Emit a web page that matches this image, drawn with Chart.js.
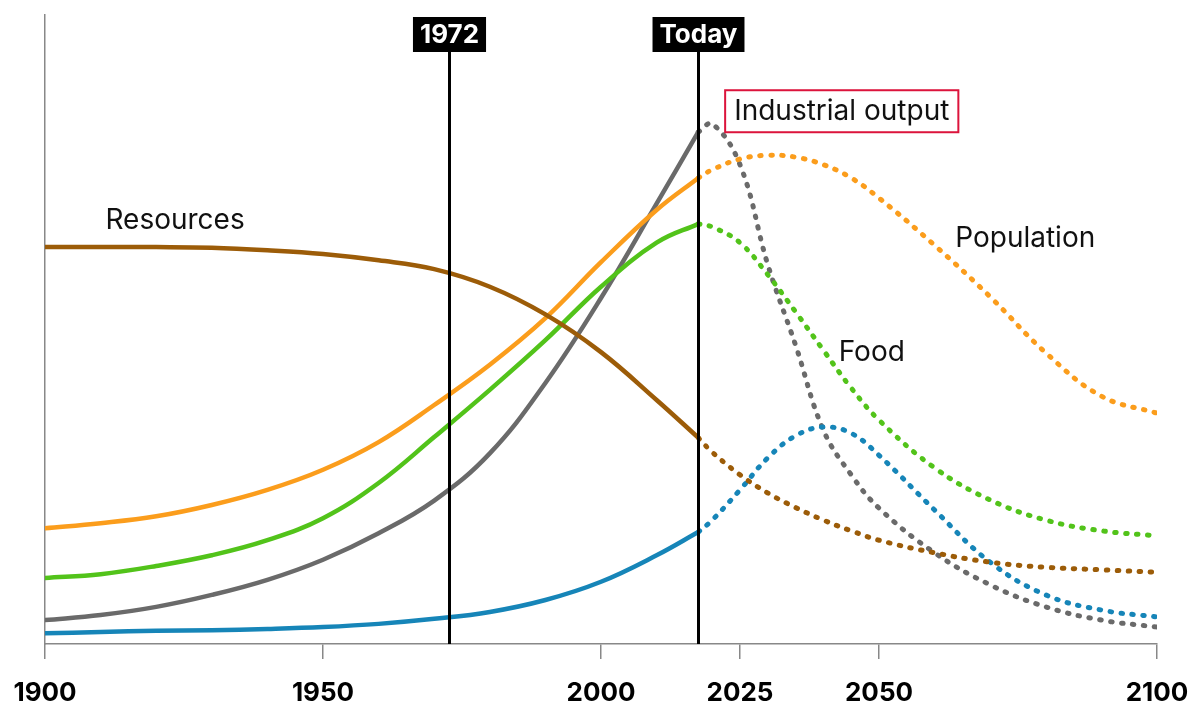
<!DOCTYPE html>
<html>
<head>
<meta charset="utf-8">
<script src="https://cdn.jsdelivr.net/npm/chart.js@4"></script>
<style>
  body { margin: 0; background: #fff; }
  #wrap { width: 1200px; height: 727px; }
</style>
</head>
<body>
<div id="wrap"><canvas id="chart"></canvas></div>
<script>
// years (solid part up to today, dotted part after)
const pastYears = [1900, 1910, 1920, 1930, 1940, 1950, 1960, 1970, 1980, 1990, 2000, 2010, 2017.5];
const futureYears = [2017.5, 2020, 2025, 2030, 2035, 2040, 2045, 2050, 2060, 2070, 2080, 2090, 2100];

// values (0 = axis, 100 = top)
const resourcesPast = [63.1, 63.1, 63.1, 63.0, 62.6, 62.0, 61.0, 59.6, 56.8, 52.4, 46.4, 38.8, 32.8];
const resourcesFuture = [32.8, 30.5, 26.9, 24.0, 21.7, 19.7, 18.0, 16.5, 14.5, 13.0, 12.2, 11.8, 11.4];

const populationPast = [18.4, 19.2, 20.3, 22.1, 24.5, 27.7, 32.1, 38.0, 44.4, 51.8, 60.7, 69.0, 74.1];
const populationFuture = [74.1, 75.4, 77.1, 77.7, 77.4, 76.2, 74.1, 70.9, 63.4, 55.2, 46.3, 39.4, 36.7];

const foodPast = [10.5, 11.1, 12.4, 14.1, 16.5, 20.0, 25.6, 32.9, 40.4, 48.3, 56.8, 63.8, 66.8];
const foodFuture = [66.8, 66.3, 63.8, 58.7, 52.8, 46.7, 40.7, 35.6, 28.0, 22.9, 19.7, 18.0, 17.2];

const industryPast = [3.8, 4.6, 5.9, 7.8, 10.2, 13.4, 17.6, 22.8, 30.3, 41.5, 55.0, 70.0, 81.4];
const industryFuture = [81.4, 82.7, 76.2, 60.3, 47.5, 34.0, 26.9, 21.6, 14.5, 9.4, 5.9, 3.8, 2.7];

const pollutionPast = [1.7, 1.9, 2.1, 2.2, 2.4, 2.7, 3.2, 4.0, 5.1, 7.0, 9.9, 14.1, 17.8];
const pollutionFuture = [17.8, 19.7, 24.5, 29.6, 33.1, 34.5, 33.5, 30.0, 21.3, 13.0, 7.8, 5.4, 4.3];

const tickYears = [1900, 1950, 2000, 2025, 2050, 2100];
const markerYears = [1972.6, 2017.5];
const markerLabels = ["1972", "Today"];

// series labels written on the chart: [text, year, value]
const seriesLabels = [
  ["Resources", 1923.4, 67.3],
  ["Population", 2076.3, 64.5],
  ["Food", 2048.7, 46.4],
  ["Industrial output", 2043.3, 84.7]
];

const colors = {
  resources: "#9c5c08",
  population: "#fb9d1c",
  food: "#52c31a",
  industry: "#6a6a6a",
  pollution: "#1685b8"
};

function toPoints(years, vals) {
  return years.map((x, i) => ({ x: x, y: vals[i] }));
}

function solid(data, color) {
  return { data: data, borderColor: color, borderWidth: 4.5, pointRadius: 0, tension: 0.4, borderCapStyle: "round" };
}
function dotted(data, color) {
  return { data: data, borderColor: color, borderWidth: 5, pointRadius: 0, tension: 0.4, borderDash: [1.5, 9.5], borderCapStyle: "round" };
}

const datasets = [
  solid(toPoints(pastYears, resourcesPast), colors.resources),
  dotted(toPoints(futureYears, resourcesFuture), colors.resources),
  solid(toPoints(pastYears, populationPast), colors.population),
  dotted(toPoints(futureYears, populationFuture), colors.population),
  solid(toPoints(pastYears, foodPast), colors.food),
  dotted(toPoints(futureYears, foodFuture), colors.food),
  solid(toPoints(pastYears, pollutionPast), colors.pollution),
  dotted(toPoints(futureYears, pollutionFuture), colors.pollution),
  solid(toPoints(pastYears, industryPast), colors.industry),
  dotted(toPoints(futureYears, industryFuture), colors.industry)
];

// vertical marker lines + text labels
const markersPlugin = {
  id: "markers",
  afterDatasetsDraw(chart) {
    const ctx = chart.ctx;
    const xs = chart.scales.x, ys = chart.scales.y;
    const area = chart.chartArea;
    ctx.save();

    markerYears.forEach((yr, i) => {
      const x = Math.round(xs.getPixelForValue(yr)) + 0.5;
      ctx.font = "bold 26px Inter";
      const w = ctx.measureText(markerLabels[i]).width + 14;
      const top = 17, h = 35;
      ctx.strokeStyle = "#000";
      ctx.lineWidth = 3;
      ctx.beginPath();
      ctx.moveTo(x, top + h);
      ctx.lineTo(x, area.bottom);
      ctx.stroke();
      ctx.fillStyle = "#000";
      ctx.fillRect(x - w / 2, top, w, h);
      ctx.fillStyle = "#fff";
      ctx.textAlign = "center";
      ctx.textBaseline = "middle";
      ctx.fillText(markerLabels[i], x, top + h / 2 + 1);
    });

    ctx.font = "28px Inter";
    ctx.textAlign = "center";
    ctx.textBaseline = "middle";
    seriesLabels.forEach(([txt, yr, v]) => {
      const x = xs.getPixelForValue(yr), y = ys.getPixelForValue(v);
      ctx.fillStyle = "#111";
      ctx.fillText(txt, x, y);
      if (txt === "Industrial output") {
        const w = ctx.measureText(txt).width + 18;
        ctx.strokeStyle = "#dc143c";
        ctx.lineWidth = 2;
        ctx.strokeRect(x - w / 2, y - 21, w, 42);
      }
    });
    ctx.restore();
  }
};

new Chart(document.getElementById("chart"), {
  type: "line",
  data: { datasets: datasets },
  options: {
    responsive: true,
    maintainAspectRatio: false,
    animation: false,
    layout: { padding: { left: 45, right: 43, top: 15, bottom: 0 } },
    plugins: { legend: { display: false }, tooltip: { enabled: false } },
    scales: {
      x: {
        type: "linear",
        min: 1900,
        max: 2100,
        afterBuildTicks: (axis) => { axis.ticks = tickYears.map(v => ({ value: v })); },
        afterFit: (axis) => { axis.paddingLeft = 0; axis.paddingRight = 0; },
        ticks: {
          font: { family: "Inter", size: 26, weight: "bold", lineHeight: 1 },
          color: "#000",
          padding: 21,
          maxRotation: 0,
          autoSkip: false,
          callback: (v) => String(v)
        },
        grid: { drawOnChartArea: false, tickLength: 15, color: "#888", lineWidth: 1.5 },
        border: { color: "#888", width: 1.5 }
      },
      y: {
        min: 0,
        max: 100,
        afterFit: (axis) => { axis.width = 0; },
        ticks: { display: false },
        grid: { display: false, drawTicks: false, tickLength: 0 },
        border: { color: "#888", width: 1.5 }
      }
    }
  },
  plugins: [markersPlugin]
});
</script>
</body>
</html>
